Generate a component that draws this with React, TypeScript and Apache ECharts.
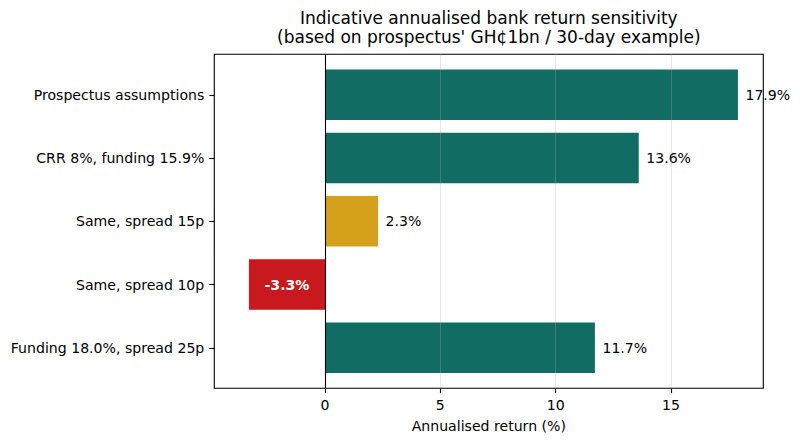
import React, { useEffect, useRef } from "react";
import * as echarts from "echarts";

const categories = [
  "Prospectus assumptions",
  "CRR 8%, funding 15.9%",
  "Same, spread 15p",
  "Same, spread 10p",
  "Funding 18.0%, spread 25p",
];
const returns = [17.9, 13.6, 2.3, -3.3, 11.7];
const barColors = ["#116c63", "#116c63", "#d5a01c", "#c8191e", "#116c63"];
const xTicks = [0, 5, 10, 15];
const titleLines = [
  "Indicative annualised bank return sensitivity",
  "(based on prospectus' GH\u00a21bn / 30-day example)",
];
const xName = "Annualised return (%)";

const FONT = "DejaVu Sans";
const FS = 14.1;

// layout
const L = 214.3;
const T = 54.3;
const W = 549;
const H = 334;
const unit = H / 5.28; // px per category unit (matplotlib ylim -0.64..4.64)
const T1 = T + (0.64 - 0.5) * unit;
const H1 = 5 * unit;
const XMIN = -4.8;
const XMAX = 19.0;

export default function App() {
  const ref = useRef<HTMLDivElement>(null);
  useEffect(() => {
    if (!ref.current) return;
    const chart = echarts.init(ref.current, null, { renderer: "svg" });
    const option: any = {
      animation: false,
      textStyle: { fontFamily: FONT },
      graphic: titleLines.map((t, i) => ({
        type: "text",
        x: L + W / 2,
        y: i === 0 ? 18.1 : 36.9,
        style: {
          text: t,
          font: `17px "${FONT}"`,
          fill: "#000",
          align: "center",
          textAlign: "center",
          verticalAlign: "middle",
          textVerticalAlign: "middle",
        },
      })),
      grid: [
        {
          left: L,
          top: T,
          width: W,
          height: H,
          show: true,
          borderColor: "#000",
          borderWidth: 1.1,
          backgroundColor: "transparent",
        },
        { left: L, top: T1, width: W, height: H1 },
      ],
      xAxis: [
        {
          type: "value",
          gridIndex: 0,
          min: XMIN,
          max: XMAX,
          position: "bottom",
          axisLine: { show: false, onZero: false },
          splitLine: { show: false },
          axisTick: {
            show: true,
            length: 4.9,
            customValues: xTicks,
            lineStyle: { color: "#000", width: 1.1 },
          },
          axisLabel: {
            customValues: xTicks,
            fontSize: FS,
            color: "#000",
            margin: 10,
            fontFamily: FONT,
          },
          name: xName,
          nameLocation: "middle",
          nameGap: 31,
          nameTextStyle: { fontSize: FS, color: "#000", fontFamily: FONT },
        },
        {
          type: "value",
          gridIndex: 1,
          min: XMIN,
          max: XMAX,
          show: false,
        },
      ],
      yAxis: [
        { type: "value", gridIndex: 0, min: 0, max: 1, show: false },
        {
          type: "category",
          gridIndex: 1,
          data: categories,
          inverse: true,
          position: "left",
          axisLine: { show: false, onZero: false },
          splitLine: { show: false },
          axisTick: {
            show: true,
            inside: false,
            alignWithLabel: true,
            length: 4.9,
            lineStyle: { color: "#000", width: 1.1 },
          },
          axisLabel: { fontSize: FS, color: "#000", margin: 10, fontFamily: FONT },
        },
      ],
      series: [
        {
          type: "bar",
          xAxisIndex: 1,
          yAxisIndex: 1,
          barWidth: 0.8 * unit,
          z: 2,
          label: {
            show: true,
            fontSize: FS,
            fontFamily: FONT,
            formatter: (p: any) => `${Number(p.value).toFixed(1)}%`,
          },
          data: returns.map((v, i) => ({
            value: v,
            itemStyle: { color: barColors[i] },
            label:
              v < 0
                ? { position: "inside", color: "#fff", fontWeight: "bold" }
                : { position: "right", distance: 7.5, color: "#000" },
          })),
        },
        {
          type: "line",
          xAxisIndex: 0,
          yAxisIndex: 0,
          data: [[0, 0.5]],
          symbol: "none",
          lineStyle: { opacity: 0 },
          silent: true,
          z: 5,
          markLine: {
            silent: true,
            symbol: "none",
            z: 5,
            label: { show: false },
            data: [
              ...xTicks.map((v) => ({
                xAxis: v,
                lineStyle: { color: "rgba(176,176,176,0.3)", width: 1.1, type: "solid" },
              })),
              { xAxis: 0, lineStyle: { color: "#000", width: 1.1, type: "solid" } },
            ],
          },
        },
      ],
    };
    chart.setOption(option);
    return () => chart.dispose();
  }, []);
  return (
    <div
      ref={ref}
      style={{ position: "absolute", left: 0, top: 0, width: 800, height: 444 }}
    />
  );
}
